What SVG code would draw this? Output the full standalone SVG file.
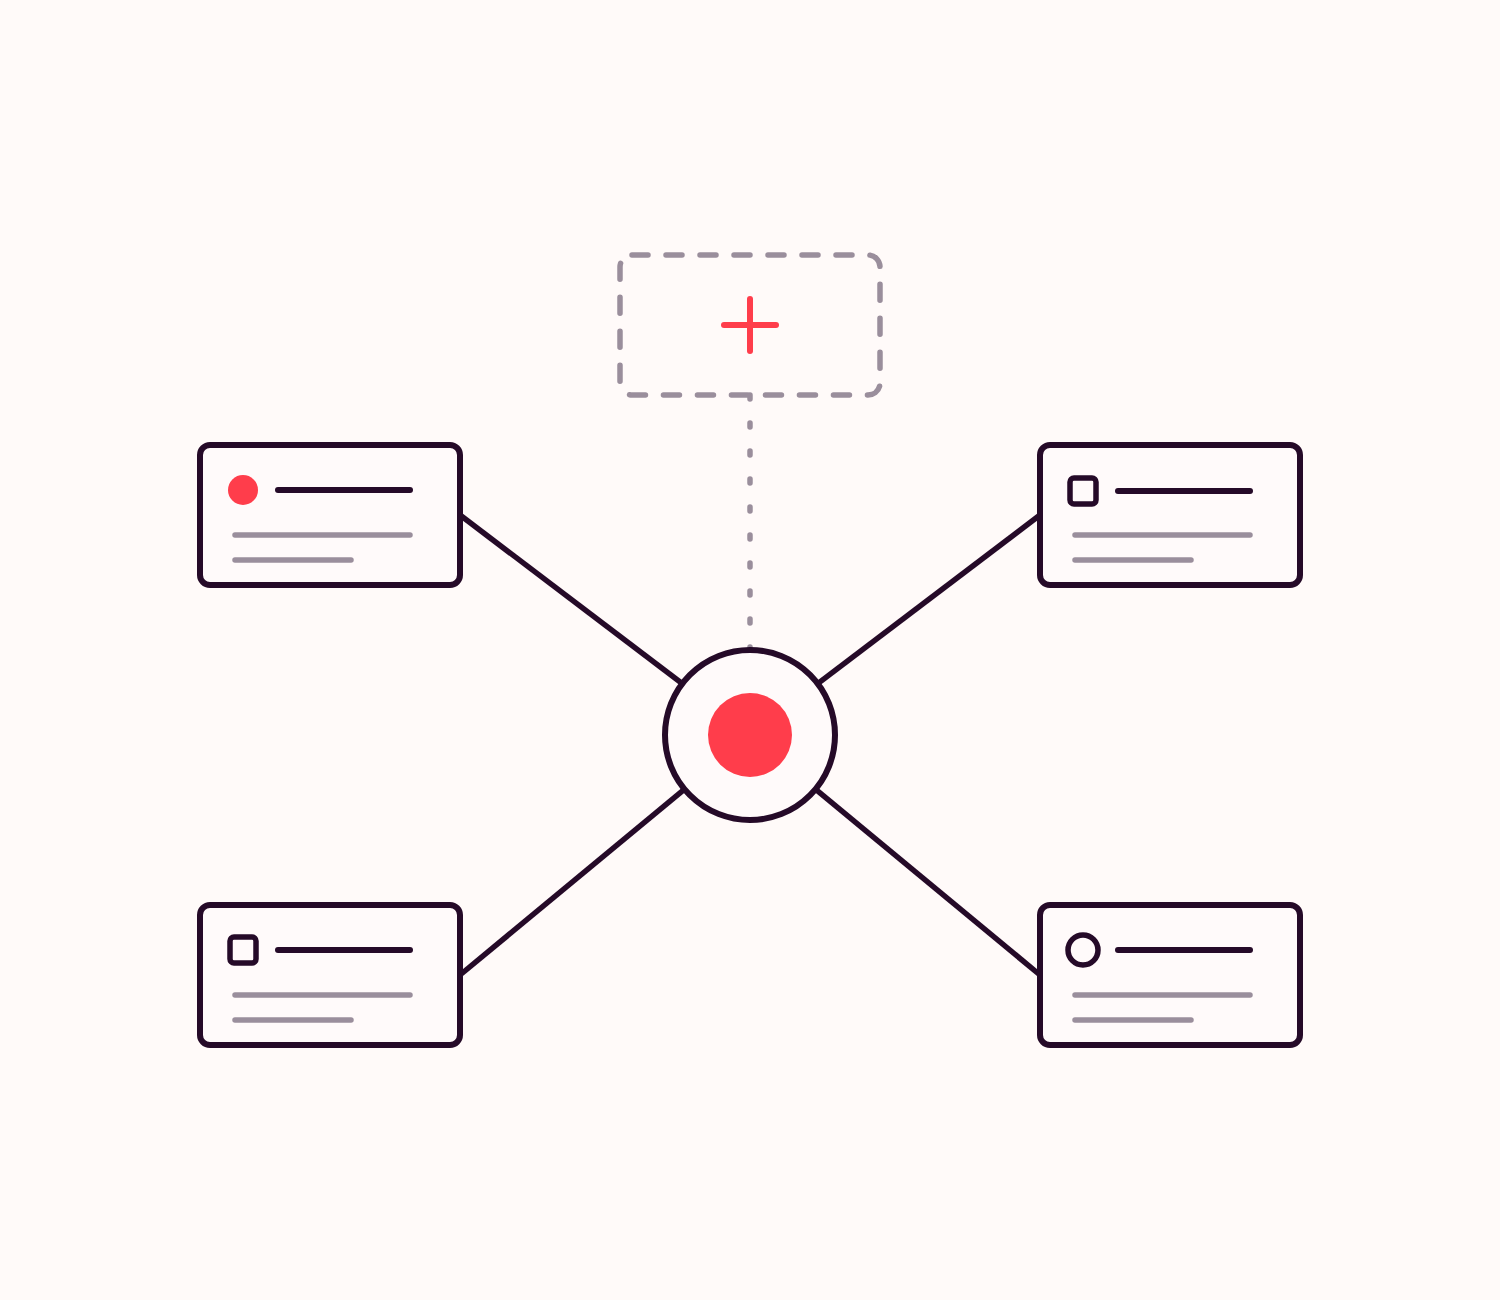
<svg xmlns="http://www.w3.org/2000/svg" width="1500" height="1300" viewBox="0 0 1500 1300">
<style>
.card{fill:#fffafa;stroke:#250a28;stroke-width:6}
.edge{stroke:#250a28;stroke-width:5.5;fill:none}
.title{stroke:#250a28;stroke-width:6;stroke-linecap:round}
.sub{stroke:#9a8e9c;stroke-width:5.5;stroke-linecap:round}
.icon{fill:none;stroke:#250a28;stroke-width:5.5}
.red{fill:#ff3d4b}
</style>
<rect width="1500" height="1300" fill="#fffaf9"/>
<g id="connectors">
<line class="edge" x1="460" y1="515" x2="750" y2="735"/>
<line class="edge" x1="1040" y1="515" x2="750" y2="735"/>
<line class="edge" x1="460" y1="975" x2="750" y2="735"/>
<line class="edge" x1="1040" y1="975" x2="750" y2="735"/>
<line x1="750" y1="395" x2="750" y2="652" stroke="#9a8e9c" stroke-width="5.5" stroke-linecap="round" stroke-dasharray="4 24"/>
</g>
<g id="add-node">
<rect x="620" y="255" width="260" height="140" rx="12" fill="none" stroke="#9a8e9c" stroke-width="5.5" stroke-linecap="round" stroke-dasharray="16 18"/>
<line x1="750" y1="299" x2="750" y2="351" stroke="#ff3d4b" stroke-width="6" stroke-linecap="round"/>
<line x1="724" y1="325" x2="776" y2="325" stroke="#ff3d4b" stroke-width="6" stroke-linecap="round"/>
</g>
<g id="hub">
<circle cx="750" cy="735" r="85" fill="#fffafa" stroke="#250a28" stroke-width="6"/>
<circle class="red" cx="750" cy="735" r="42"/>
</g>
<g id="card-top-left">
<rect class="card" x="200" y="445" width="260" height="140" rx="10"/>
<circle class="red" cx="243" cy="490" r="15"/>
<line class="title" x1="278" y1="490" x2="410" y2="490"/>
<line class="sub" x1="235" y1="535" x2="410" y2="535"/>
<line class="sub" x1="235" y1="560" x2="351" y2="560"/>
</g>
<g id="card-top-right">
<rect class="card" x="1040" y="445" width="260" height="140" rx="10"/>
<rect class="icon" x="1070" y="478" width="26" height="26" rx="4"/>
<line class="title" x1="1118" y1="491" x2="1250" y2="491"/>
<line class="sub" x1="1075" y1="535" x2="1250" y2="535"/>
<line class="sub" x1="1075" y1="560" x2="1191" y2="560"/>
</g>
<g id="card-bottom-left">
<rect class="card" x="200" y="905" width="260" height="140" rx="10"/>
<rect class="icon" x="230" y="937" width="26" height="26" rx="4"/>
<line class="title" x1="278" y1="950" x2="410" y2="950"/>
<line class="sub" x1="235" y1="995" x2="410" y2="995"/>
<line class="sub" x1="235" y1="1020" x2="351" y2="1020"/>
</g>
<g id="card-bottom-right">
<rect class="card" x="1040" y="905" width="260" height="140" rx="10"/>
<circle class="icon" cx="1083" cy="950" r="15"/>
<line class="title" x1="1118" y1="950" x2="1250" y2="950"/>
<line class="sub" x1="1075" y1="995" x2="1250" y2="995"/>
<line class="sub" x1="1075" y1="1020" x2="1191" y2="1020"/>
</g>
</svg>
